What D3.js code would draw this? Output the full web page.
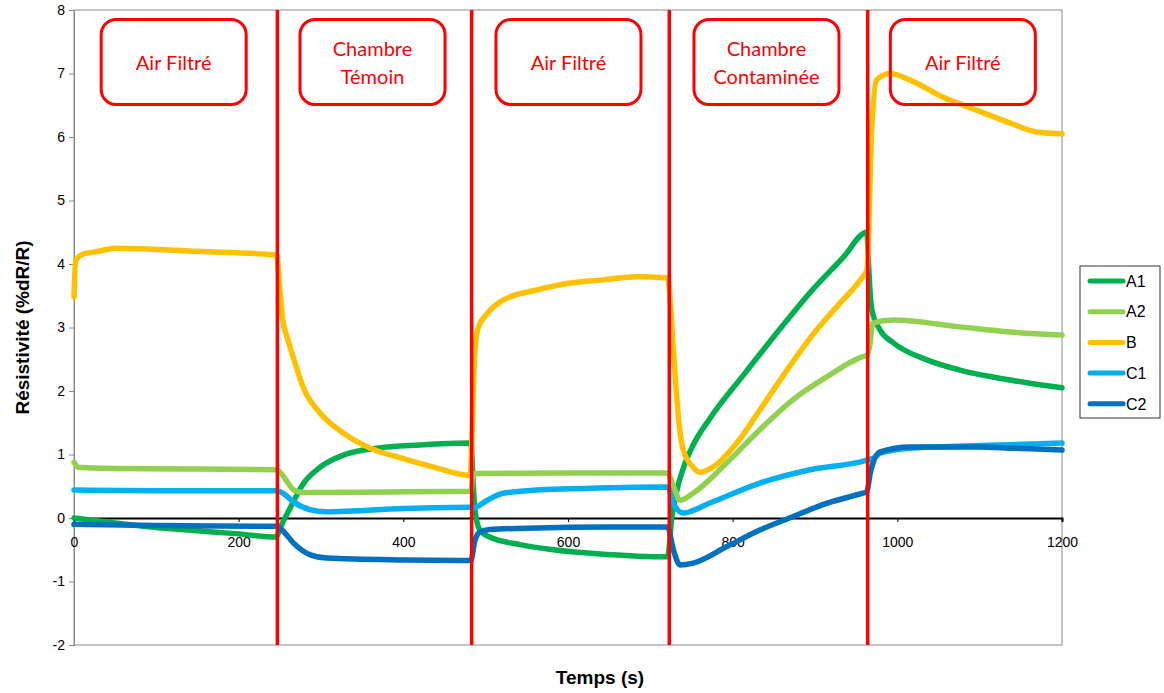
<!DOCTYPE html>
<html><head><meta charset="utf-8">
<script src="https://cdn.jsdelivr.net/npm/d3@7"></script>
<style>body{margin:0;background:#fff}svg{display:block}</style>
</head><body>
<svg id="c" width="1164" height="693"></svg>
<script>
// ---- data ----
const xTicks = [0,200,400,600,800,1000,1200];
const yTicks = [-2,-1,0,1,2,3,4,5,6,7,8];
const phaseBounds = [247, 483, 723, 964];
const phaseLabels = [["Air Filtré"],["Chambre","Témoin"],["Air Filtré"],["Chambre","Contaminée"],["Air Filtré"]];
const seriesNames = ["A1","A2","B","C1","C2"];
const seriesColors = ["#00b050","#92d050","#ffc000","#00b0f0","#0070c0"];

const A1 = [[0,0],[50,-0.08],[100,-0.15],[150,-0.2],[200,-0.25],[246,-0.3],
  [249,-0.2],[263,0.17],[279,0.55],[299,0.8],[327,0.99],[368,1.1],[420,1.15],[482,1.18],
  [485,0.5],[487,0.12],[493,-0.19],[505,-0.3],[542,-0.42],[582,-0.5],[643,-0.57],[721,-0.61],
  [726,0],[732,0.42],[741,0.82],[752,1.15],[773,1.58],[813,2.25],[854,2.92],[894,3.55],[934,4.1],[963,4.5],
  [965,4.0],[967,3.54],[969,3.28],[979,2.96],[995,2.76],[1036,2.49],[1076,2.33],[1116,2.22],[1157,2.13],[1200,2.05]];
const A2 = [[0,0.88],[5,0.8],[50,0.78],[150,0.77],[246,0.76],
  [251,0.71],[260,0.55],[267,0.44],[279,0.4],[380,0.41],[482,0.42],
  [485,0.7],[600,0.71],[721,0.71],
  [728,0.5],[736,0.28],[752,0.39],[793,0.87],[833,1.39],[873,1.86],[914,2.22],[958,2.54],[963,2.56],
  [967,2.76],[970,3.07],[995,3.12],[1076,3.01],[1137,2.93],[1200,2.88]];
const B = [[0,3.48],[2,4.05],[10,4.15],[30,4.2],[50,4.25],[150,4.2],[246,4.14],
  [250,3.6],[253,3.17],[260,2.8],[267,2.5],[279,2.04],[299,1.65],[327,1.34],[360,1.1],[396,0.95],[437,0.8],[481,0.67],
  [487,2.65],[491,3.0],[502,3.22],[521,3.43],[562,3.59],[603,3.7],[643,3.75],[684,3.8],[721,3.78],
  [728,2.65],[734,1.6],[740,1.07],[752,0.8],[760,0.72],[776,0.8],[805,1.18],[833,1.7],[866,2.33],[898,2.9],[930,3.38],[958,3.8],[963,3.9],
  [969,6.16],[975,6.9],[991,7.0],[1015,6.9],[1055,6.63],[1097,6.42],[1137,6.22],[1169,6.08],[1200,6.05]];
const C1 = [[0,0.44],[100,0.43],[246,0.43],
  [255,0.38],[267,0.25],[287,0.13],[307,0.1],[400,0.15],[482,0.17],
  [485,0.16],[502,0.28],[521,0.39],[562,0.44],[603,0.46],[721,0.49],
  [728,0.23],[740,0.08],[773,0.24],[833,0.55],[894,0.76],[963,0.91],
  [972,0.95],[979,1.02],[1015,1.1],[1100,1.14],[1200,1.18]];
const C2 = [[0,-0.1],[100,-0.12],[246,-0.13],
  [255,-0.22],[267,-0.4],[287,-0.58],[307,-0.63],[400,-0.66],[482,-0.67],
  [487,-0.35],[493,-0.22],[505,-0.18],[550,-0.16],[650,-0.14],[721,-0.14],
  [728,-0.5],[736,-0.74],[752,-0.71],[793,-0.45],[833,-0.19],[873,0.02],[914,0.23],[958,0.39],[963,0.41],
  [967,0.7],[979,1.04],[1015,1.12],[1100,1.12],[1140,1.1],[1200,1.07]];
const seriesData = [A1,A2,B,C1,C2];

// ---- layout ----
const svg = d3.select("#c");
const L = 74, R = 1062, T = 10, Bt = 645;
const x = d3.scaleLinear().domain([0,1200]).range([L,R]);
const y = d3.scaleLinear().domain([-2,8]).range([Bt,T]);
const font = "'Liberation Sans', Arial, sans-serif";

// plot border
svg.append("rect").attr("x",L).attr("y",T).attr("width",R-L).attr("height",Bt-T)
  .attr("fill","none").attr("stroke","#8c8c8c").attr("stroke-width",1);

// y axis
const yAxis = svg.append("g").attr("transform",`translate(${L},0)`)
  .call(d3.axisLeft(y).tickValues(yTicks).tickSize(5).tickPadding(4).tickFormat(d=>String(d)));
yAxis.select(".domain").attr("stroke","#8c8c8c");
yAxis.selectAll(".tick line").attr("stroke","#8c8c8c");
yAxis.selectAll("text").attr("font-family",font).attr("font-size",14).attr("fill","#000");

// x axis along zero
const xAxis = svg.append("g").attr("transform",`translate(0,${y(0)})`)
  .call(d3.axisBottom(x).tickValues(xTicks).tickSize(4).tickPadding(15).tickFormat(d=>String(d)));
xAxis.select(".domain").attr("stroke","#000").attr("stroke-width",2);
xAxis.selectAll(".tick line").attr("stroke","#000");
xAxis.selectAll("text").attr("font-family",font).attr("font-size",14).attr("fill","#000");

// series
const line = d3.line().x(d=>x(d[0])).y(d=>y(d[1])).curve(d3.curveMonotoneX);
seriesData.forEach((s,i)=>{
  svg.append("path").datum(s).attr("d",line).attr("fill","none")
    .attr("stroke",seriesColors[i]).attr("stroke-width",5.5)
    .attr("stroke-linejoin","round").attr("stroke-linecap","round");
});

// phase boundaries
svg.selectAll("line.phase").data(phaseBounds).enter().append("line")
  .attr("x1",d=>x(d)).attr("x2",d=>x(d)).attr("y1",T).attr("y2",Bt)
  .attr("stroke","#ff0000").attr("stroke-width",3.5);

// phase label boxes
const edges = [0].concat(phaseBounds).concat([1200]);
const boxW = 145, boxH = 85;
phaseLabels.forEach((lab,i)=>{
  const cx = (x(edges[i])+x(edges[i+1]))/2 - 2;
  const g = svg.append("g");
  g.append("rect").attr("x",cx-boxW/2).attr("y",19.5).attr("width",boxW).attr("height",boxH)
    .attr("rx",15).attr("ry",15).attr("fill","none").attr("stroke","#ff0000").attr("stroke-width",3);
  const cy = 63;
  lab.forEach((t,j)=>{
    g.append("text").attr("x",cx).attr("y",cy + (j - (lab.length-1)/2)*28)
      .attr("dy","0.35em").attr("text-anchor","middle")
      .attr("font-family","Lato, 'Open Sans', sans-serif").attr("font-size",20).attr("fill","#ff0000").text(t);
  });
});

// axis titles
svg.append("text").attr("transform",`translate(22,${(T+Bt)/2}) rotate(-90)`)
  .attr("text-anchor","middle").attr("dy","0.35em")
  .attr("font-family",font).attr("font-weight","bold").attr("font-size",19).text("Résistivité (%dR/R)");
svg.append("text").attr("x",600).attr("y",677).attr("dy","0.35em").attr("text-anchor","middle")
  .attr("font-family",font).attr("font-weight","bold").attr("font-size",19).text("Temps (s)");

// legend
const lg = svg.append("g");
lg.append("rect").attr("x",1080).attr("y",266).attr("width",80).attr("height",152)
  .attr("fill","#fff").attr("stroke","#333").attr("stroke-width",1);
seriesNames.forEach((n,i)=>{
  const yy = 281 + i*30.7;
  lg.append("line").attr("x1",1090).attr("x2",1123).attr("y1",yy).attr("y2",yy)
    .attr("stroke",seriesColors[i]).attr("stroke-width",5).attr("stroke-linecap","round");
  lg.append("text").attr("x",1126).attr("y",yy).attr("dy","0.36em")
    .attr("font-family",font).attr("font-size",16).text(n);
});
</script>
</body></html>
